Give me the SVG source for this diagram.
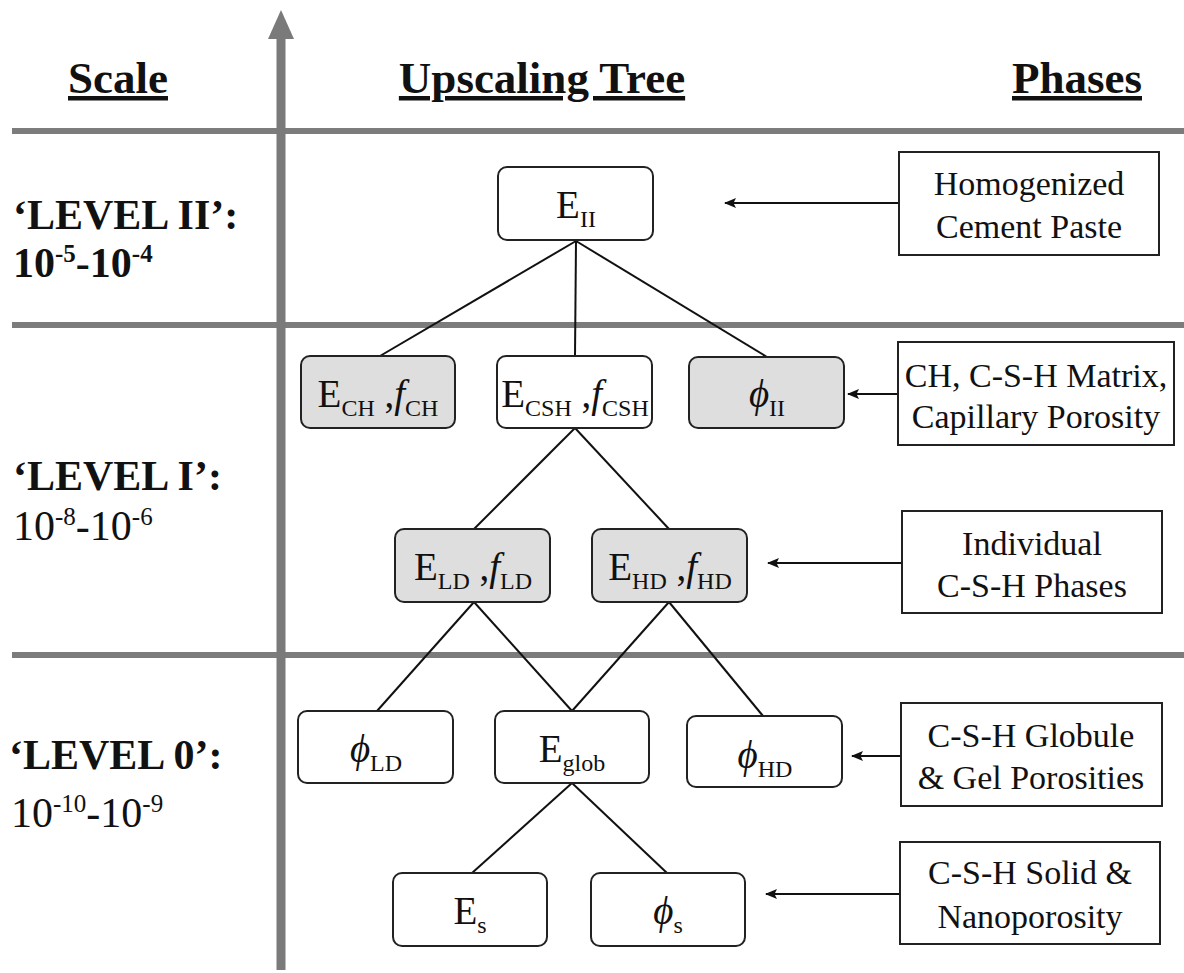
<svg xmlns="http://www.w3.org/2000/svg" width="1184" height="973" viewBox="0 0 1184 973">
  <style>
    .serif { font-family: "Liberation Serif", "Times New Roman", "DejaVu Serif", serif; fill: #111; }
    .head { font-size: 45px; font-weight: bold; text-decoration: underline; }
    .lvl { font-size: 42px; font-weight: bold; }
    .range { font-size: 42px; }
    .sup { font-size: 25px; }
    .node rect { stroke: #222; stroke-width: 2; }
    .plain { fill: #ffffff; }
    .shade { fill: #dedede; }
    .nt { font-size: 39px; }
    .sub { font-size: 24px; }
    .it { font-style: italic; }
    .phase rect { fill: #ffffff; stroke: #222; stroke-width: 2; }
    .pt { font-size: 34px; }
    .sep { stroke: #7c7c7c; stroke-width: 6; }
    .edge { stroke: #111; stroke-width: 2; fill: none; }
    .ptr { stroke: #111; stroke-width: 2; fill: none; marker-end: url(#tip); }
  </style>
  <defs>
    <marker id="tip" viewBox="0 0 12 10" refX="11" refY="5" markerWidth="12" markerHeight="10" markerUnits="userSpaceOnUse" orient="auto">
      <path d="M0,0 L12,5 L0,10 L2.5,5 Z" fill="#111"/>
    </marker>
  </defs>

  <rect width="1184" height="973" fill="#ffffff"/>

  <!-- scale separators -->
  <g id="separators">
    <line class="sep" x1="12" y1="131" x2="1184" y2="131"/>
    <line class="sep" x1="12" y1="325" x2="1184" y2="325"/>
    <line class="sep" x1="12" y1="655" x2="1184" y2="655"/>
  </g>

  <!-- scale axis -->
  <g id="axis">
    <line x1="281" y1="36" x2="281" y2="970" stroke="#7a7a7a" stroke-width="9"/>
    <polygon points="281,10 268,39 294,39" fill="#7a7a7a"/>
  </g>

  <!-- column headings -->
  <g id="headings" class="serif">
    <text class="serif head" x="118" y="93" text-anchor="middle">Scale</text>
    <text class="serif head" x="542" y="93" text-anchor="middle">Upscaling Tree</text>
    <text class="serif head" x="1077" y="93" text-anchor="middle">Phases</text>
  </g>

  <!-- level labels -->
  <g id="levels">
    <text class="serif lvl" x="13" y="229">‘LEVEL II’:</text>
    <text class="serif lvl" x="13" y="277">10<tspan class="sup" dy="-15">-5</tspan><tspan dy="15">-10</tspan><tspan class="sup" dy="-15">-4</tspan></text>
    <text class="serif lvl" x="13" y="490">‘LEVEL I’:</text>
    <text class="serif range" x="13" y="540">10<tspan class="sup" dy="-15">-8</tspan><tspan dy="15">-10</tspan><tspan class="sup" dy="-15">-6</tspan></text>
    <text class="serif lvl" x="9" y="769">‘LEVEL 0’:</text>
    <text class="serif range" x="11" y="827">10<tspan class="sup" dy="-15">-10</tspan><tspan dy="15">-10</tspan><tspan class="sup" dy="-15">-9</tspan></text>
  </g>

  <!-- tree connectors and phase pointers -->
  <g id="connectors">
    <line class="edge" x1="576" y1="241" x2="380" y2="356"/>
    <line class="edge" x1="576" y1="241" x2="575" y2="356"/>
    <line class="edge" x1="576" y1="241" x2="767" y2="357"/>
    <line class="edge" x1="575" y1="428" x2="474" y2="529"/>
    <line class="edge" x1="575" y1="428" x2="669" y2="529"/>
    <line class="edge" x1="474" y1="602" x2="377" y2="711"/>
    <line class="edge" x1="474" y1="602" x2="572" y2="711"/>
    <line class="edge" x1="669" y1="602" x2="572" y2="711"/>
    <line class="edge" x1="669" y1="602" x2="763" y2="716"/>
    <line class="edge" x1="572" y1="783" x2="472" y2="873"/>
    <line class="edge" x1="572" y1="783" x2="667" y2="873"/>

    <line class="ptr" x1="899" y1="203" x2="725" y2="203"/>
    <line class="ptr" x1="898" y1="394" x2="848" y2="394"/>
    <line class="ptr" x1="902" y1="563" x2="768" y2="563"/>
    <line class="ptr" x1="901" y1="756" x2="852" y2="756"/>
    <line class="ptr" x1="900" y1="894" x2="766" y2="894"/>
  </g>

  <!-- tree nodes -->
  <g id="n-EII" class="node">
    <rect class="plain" x="498" y="167" width="155" height="73" rx="9"/>
    <text class="serif nt" x="576" y="218" text-anchor="middle">E<tspan class="sub" dy="9">II</tspan></text>
  </g>
  <g id="n-ECH" class="node">
    <rect class="shade" x="301" y="356" width="154" height="72" rx="9"/>
    <text class="serif nt" x="378" y="407" text-anchor="middle">E<tspan class="sub" dy="9">CH</tspan><tspan dy="-9"> ,</tspan><tspan class="it">f</tspan><tspan class="sub" dy="9">CH</tspan></text>
  </g>
  <g id="n-ECSH" class="node">
    <rect class="plain" x="497" y="356" width="155" height="72" rx="9"/>
    <text class="serif nt" x="575" y="407" text-anchor="middle">E<tspan class="sub" dy="9">CSH</tspan><tspan dy="-9"> ,</tspan><tspan class="it">f</tspan><tspan class="sub" dy="9">CSH</tspan></text>
  </g>
  <g id="n-phiII" class="node">
    <rect class="shade" x="689" y="357" width="155" height="71" rx="9"/>
    <text class="serif nt" x="767" y="407" text-anchor="middle"><tspan class="it">ϕ</tspan><tspan class="sub" dy="9">II</tspan></text>
  </g>
  <g id="n-ELD" class="node">
    <rect class="shade" x="395" y="529" width="155" height="73" rx="9"/>
    <text class="serif nt" x="473" y="580" text-anchor="middle">E<tspan class="sub" dy="9">LD</tspan><tspan dy="-9"> ,</tspan><tspan class="it">f</tspan><tspan class="sub" dy="9">LD</tspan></text>
  </g>
  <g id="n-EHD" class="node">
    <rect class="shade" x="592" y="529" width="155" height="73" rx="9"/>
    <text class="serif nt" x="670" y="580" text-anchor="middle">E<tspan class="sub" dy="9">HD</tspan><tspan dy="-9"> ,</tspan><tspan class="it">f</tspan><tspan class="sub" dy="9">HD</tspan></text>
  </g>
  <g id="n-phiLD" class="node">
    <rect class="plain" x="298" y="711" width="155" height="72" rx="9"/>
    <text class="serif nt" x="376" y="762" text-anchor="middle"><tspan class="it">ϕ</tspan><tspan class="sub" dy="9">LD</tspan></text>
  </g>
  <g id="n-Eglob" class="node">
    <rect class="plain" x="495" y="711" width="154" height="72" rx="9"/>
    <text class="serif nt" x="572" y="762" text-anchor="middle">E<tspan class="sub" dy="9">glob</tspan></text>
  </g>
  <g id="n-phiHD" class="node">
    <rect class="plain" x="687" y="716" width="155" height="71" rx="9"/>
    <text class="serif nt" x="765" y="768" text-anchor="middle"><tspan class="it">ϕ</tspan><tspan class="sub" dy="9">HD</tspan></text>
  </g>
  <g id="n-Es" class="node">
    <rect class="plain" x="393" y="873" width="154" height="73" rx="9"/>
    <text class="serif nt" x="470" y="924" text-anchor="middle">E<tspan class="sub" dy="9">s</tspan></text>
  </g>
  <g id="n-phis" class="node">
    <rect class="plain" x="591" y="873" width="154" height="73" rx="9"/>
    <text class="serif nt" x="668" y="924" text-anchor="middle"><tspan class="it">ϕ</tspan><tspan class="sub" dy="9">s</tspan></text>
  </g>

  <!-- phase descriptions -->
  <g id="p-paste" class="phase">
    <rect x="899" y="152" width="260" height="103"/>
    <text class="serif pt" x="1029" y="195" text-anchor="middle">Homogenized</text>
    <text class="serif pt" x="1029" y="238" text-anchor="middle">Cement Paste</text>
  </g>
  <g id="p-matrix" class="phase">
    <rect x="898" y="342" width="276" height="103"/>
    <text class="serif pt" x="1036" y="387" text-anchor="middle">CH, C-S-H Matrix,</text>
    <text class="serif pt" x="1036" y="428" text-anchor="middle">Capillary Porosity</text>
  </g>
  <g id="p-csh" class="phase">
    <rect x="902" y="511" width="260" height="102"/>
    <text class="serif pt" x="1032" y="555" text-anchor="middle">Individual</text>
    <text class="serif pt" x="1032" y="597" text-anchor="middle">C-S-H Phases</text>
  </g>
  <g id="p-globule" class="phase">
    <rect x="901" y="703" width="261" height="103"/>
    <text class="serif pt" x="1031" y="747" text-anchor="middle">C-S-H Globule</text>
    <text class="serif pt" x="1031" y="789" text-anchor="middle">&amp; Gel Porosities</text>
  </g>
  <g id="p-solid" class="phase">
    <rect x="900" y="842" width="260" height="102"/>
    <text class="serif pt" x="1030" y="884" text-anchor="middle">C-S-H Solid &amp;</text>
    <text class="serif pt" x="1030" y="928" text-anchor="middle">Nanoporosity</text>
  </g>
</svg>
